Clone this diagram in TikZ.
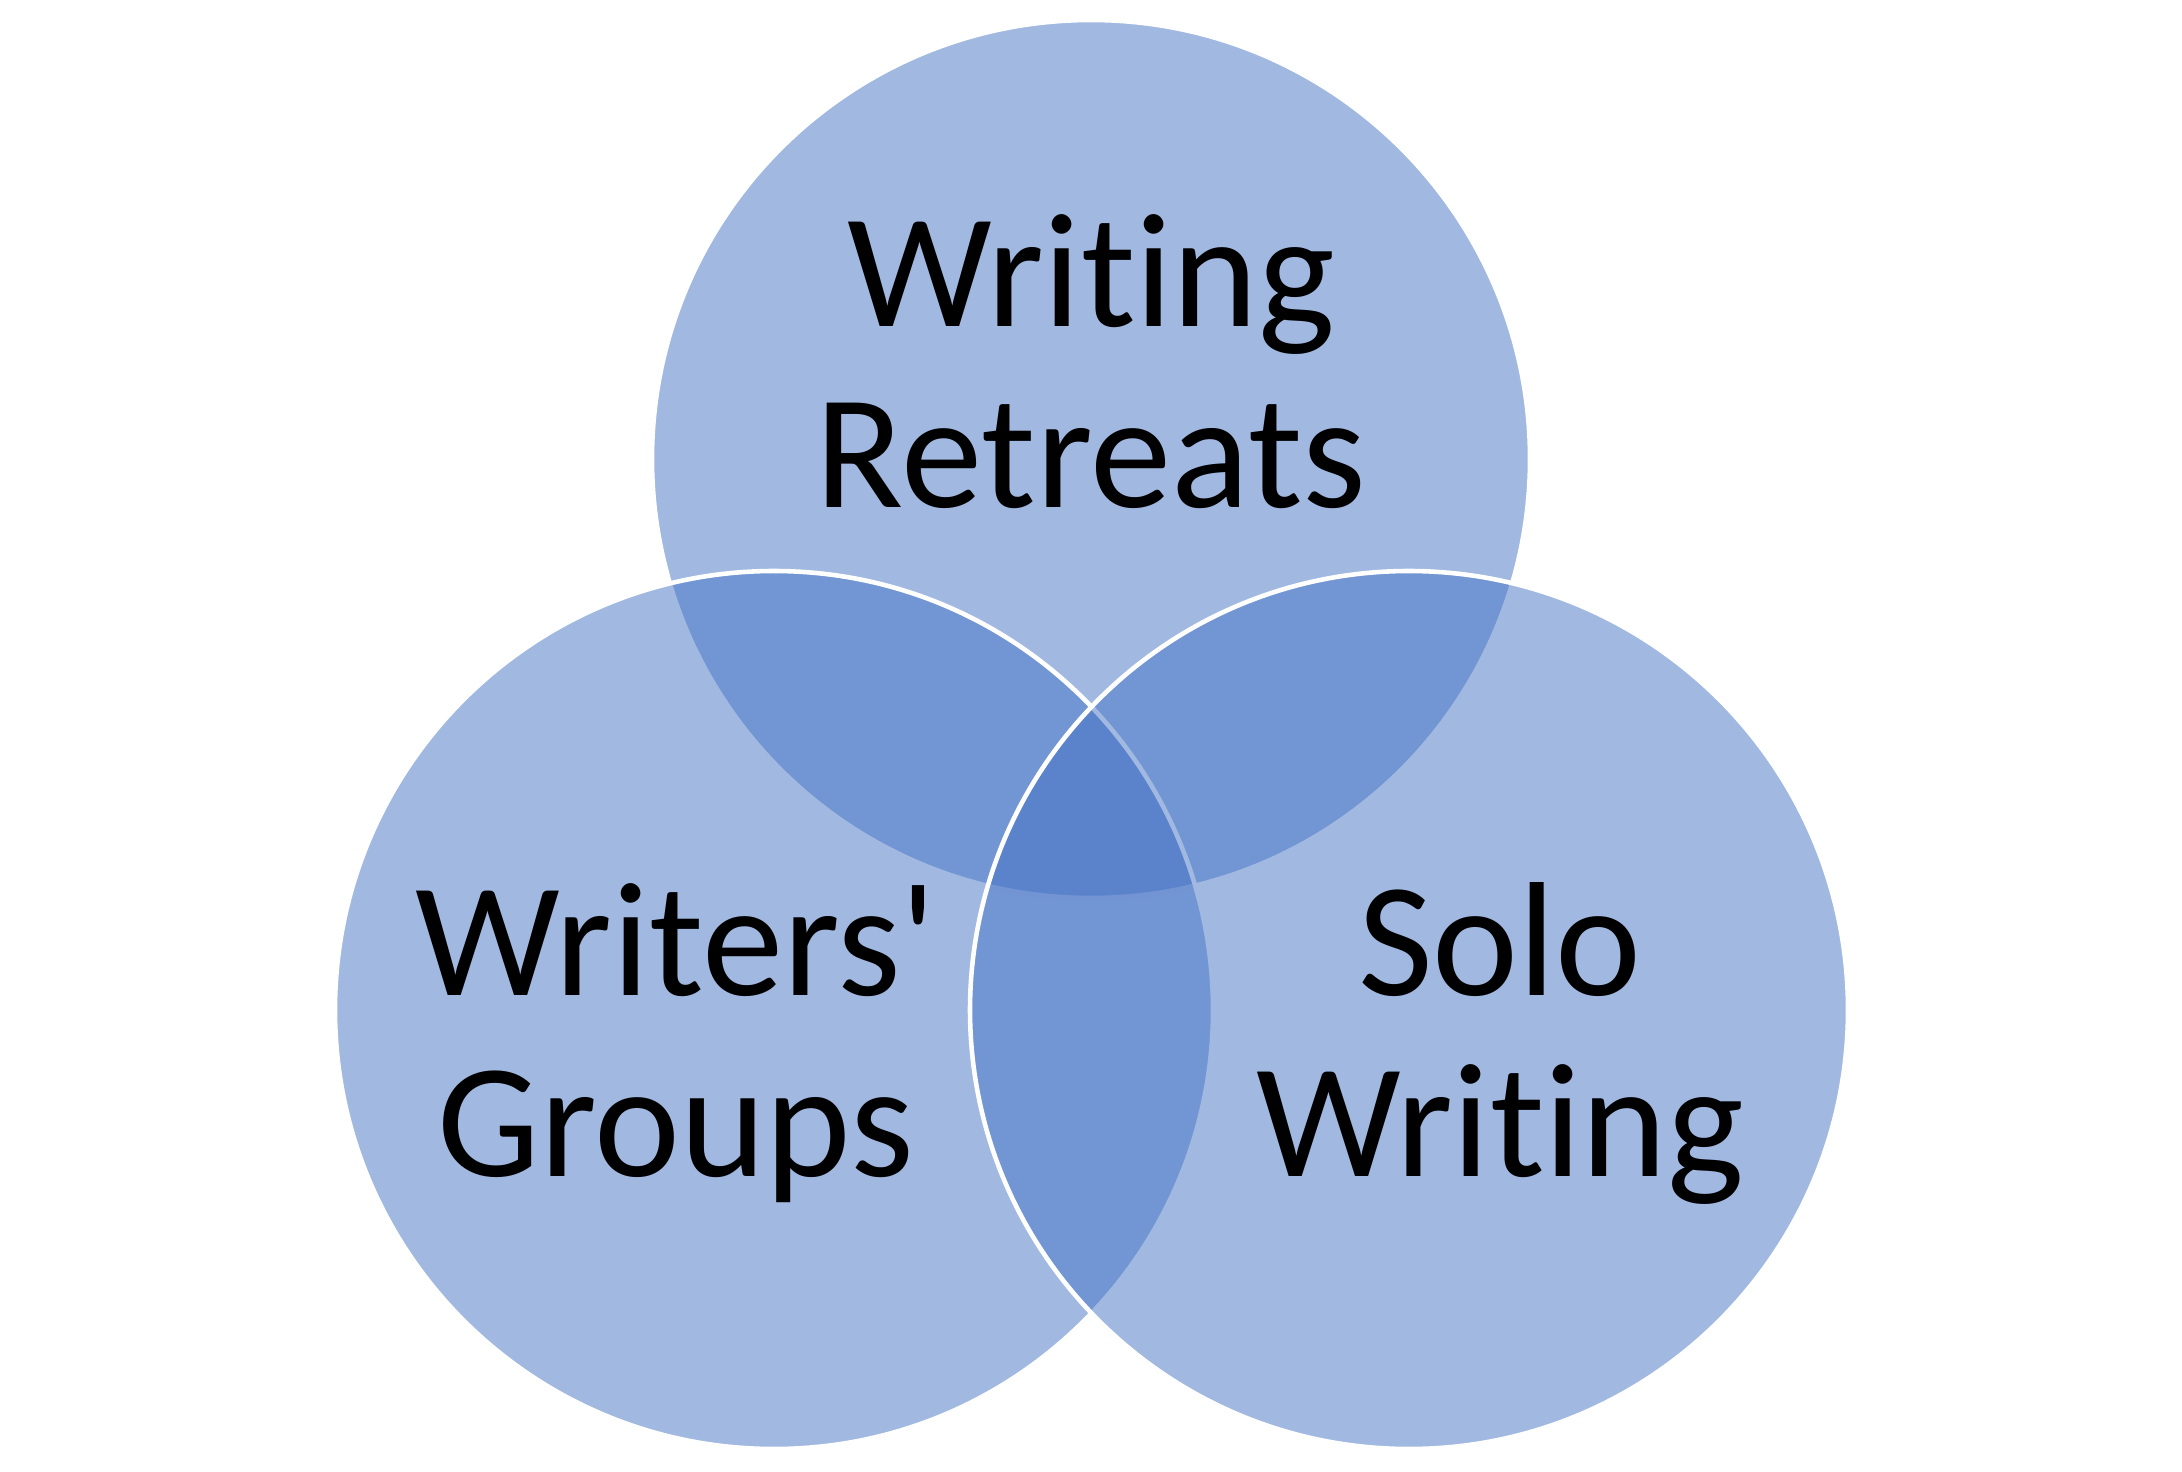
\documentclass[tikz,border=0pt]{standalone}
\usepackage{fontspec}
\setmainfont{Carlito}[Ligatures={NoCommon}]
\usepackage{tikz}
\usetikzlibrary{positioning}
\definecolor{vennB}{RGB}{68,114,196}
\tikzset{
  ring/.style={fill=vennB, fill opacity=0.5, draw=white, line width=1.3pt},
  tag/.style={font=\fontsize{46.3pt}{51.5pt}\selectfont, align=center, anchor=base, inner sep=0pt}
}

\begin{document}
\begin{tikzpicture}
% canvas 21.82 x 14.71, circles r=4.39 on an equilateral triangle
\useasboundingbox (0,0) rectangle (21.82,14.71);
\def\rad{4.39}
\coordinate (cT) at (10.91,10.12);
\coordinate (cL) at (7.74,4.61);
\coordinate (cR) at (14.09,4.61);
% circles, drawn in order so later fills tint earlier outlines
\draw[ring] (cT) circle (\rad);
\draw[ring] (cL) circle (\rad);
\draw[ring] (cR) circle (\rad);
% labels (anchor=base sits on the last line)
\node[tag] (retreats) at (10.91,9.64) {Writing\\Retreats};
\node[tag] (groups)   at (6.76,2.95)  {Writers\textquotesingle\\Groups};
\node[tag] (solo)     at (15.00,2.95) {Solo\\Writing};
\end{tikzpicture}
\end{document}
